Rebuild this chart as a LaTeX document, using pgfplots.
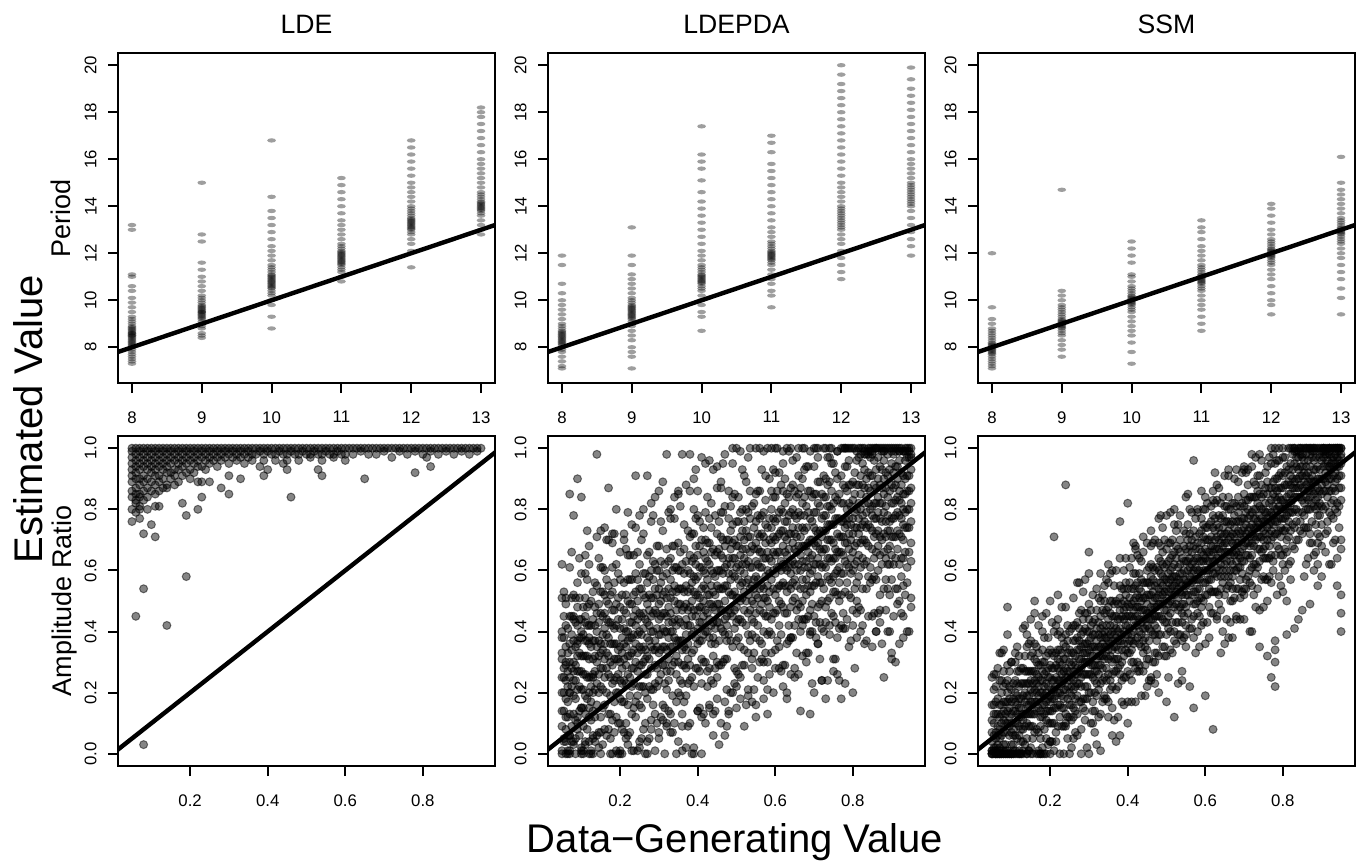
\documentclass[border=0pt]{standalone}
\usepackage{fontspec}
\setmainfont{Liberation Sans}
\usepackage{pgfplots}
\usepackage{pgfplotstable}
\pgfplotsset{compat=1.18}

% ---- top row: period estimates (x = data-generating period) ----
\pgfplotstableread{
x y
8 7.3
8 7.4
8 7.5
8 7.6
8 7.7
8 7.8
8 7.9
8 8.0
8 8.05
8 8.1
8 8.15
8 8.2
8 8.25
8 8.3
8 8.35
8 8.4
8 8.45
8 8.5
8 8.5
8 8.55
8 8.6
8 8.6
8 8.65
8 8.7
8 8.75
8 8.8
8 8.85
8 8.9
8 9.0
8 9.1
8 9.2
8 9.3
8 9.5
8 9.7
8 9.9
8 10.1
8 10.4
8 10.6
8 11.0
8 11.1
8 13.0
8 13.2
9 8.4
9 8.5
9 8.6
9 8.8
9 8.9
9 9.0
9 9.1
9 9.2
9 9.25
9 9.3
9 9.35
9 9.4
9 9.45
9 9.5
9 9.5
9 9.55
9 9.6
9 9.65
9 9.7
9 9.75
9 9.8
9 9.9
9 10.0
9 10.1
9 10.2
9 10.4
9 10.6
9 10.8
9 11.0
9 11.3
9 11.6
9 12.5
9 12.8
9 15.0
10 8.8
10 9.3
10 9.8
10 10.0
10 10.2
10 10.3
10 10.4
10 10.5
10 10.55
10 10.6
10 10.65
10 10.7
10 10.75
10 10.8
10 10.85
10 10.9
10 10.95
10 11.0
10 11.05
10 11.1
10 11.2
10 11.3
10 11.4
10 11.5
10 11.7
10 11.9
10 12.1
10 12.3
10 12.6
10 12.9
10 13.2
10 13.5
10 13.8
10 14.4
10 16.8
11 10.8
11 11.0
11 11.2
11 11.3
11 11.4
11 11.5
11 11.55
11 11.6
11 11.65
11 11.7
11 11.75
11 11.8
11 11.85
11 11.9
11 11.95
11 12.0
11 12.05
11 12.1
11 12.2
11 12.3
11 12.4
11 12.6
11 12.8
11 13.0
11 13.2
11 13.4
11 13.7
11 14.0
11 14.3
11 14.6
11 14.9
11 15.2
12 11.4
12 12.1
12 12.4
12 12.6
12 12.8
12 12.9
12 13.0
12 13.05
12 13.1
12 13.15
12 13.2
12 13.25
12 13.3
12 13.35
12 13.4
12 13.45
12 13.5
12 13.6
12 13.7
12 13.8
12 13.9
12 14.0
12 14.2
12 14.4
12 14.6
12 14.8
12 15.0
12 15.3
12 15.6
12 15.9
12 16.2
12 16.5
12 16.8
13 12.8
13 13.0
13 13.2
13 13.4
13 13.6
13 13.7
13 13.8
13 13.85
13 13.9
13 13.95
13 14.0
13 14.05
13 14.1
13 14.15
13 14.2
13 14.3
13 14.4
13 14.5
13 14.6
13 14.8
13 15.0
13 15.2
13 15.4
13 15.6
13 15.8
13 16.0
13 16.3
13 16.6
13 16.9
13 17.2
13 17.5
13 17.8
13 18.0
13 18.2
}\ldeper

\pgfplotstableread{
x y
8 7.1
8 7.2
8 7.4
8 7.6
8 7.8
8 7.9
8 8.0
8 8.1
8 8.15
8 8.2
8 8.25
8 8.3
8 8.35
8 8.4
8 8.45
8 8.5
8 8.55
8 8.6
8 8.65
8 8.7
8 8.8
8 8.9
8 9.0
8 9.2
8 9.4
8 9.6
8 9.8
8 10.0
8 10.3
8 10.7
8 11.5
8 11.9
9 7.1
9 7.6
9 7.8
9 8.0
9 8.3
9 8.5
9 8.7
9 8.9
9 9.0
9 9.1
9 9.2
9 9.25
9 9.3
9 9.35
9 9.4
9 9.45
9 9.5
9 9.55
9 9.6
9 9.65
9 9.7
9 9.75
9 9.8
9 9.9
9 10.0
9 10.1
9 10.3
9 10.5
9 10.7
9 10.9
9 11.1
9 11.5
9 11.9
9 13.1
10 8.7
10 9.3
10 9.5
10 9.8
10 10.0
10 10.2
10 10.4
10 10.5
10 10.6
10 10.7
10 10.75
10 10.8
10 10.85
10 10.9
10 10.95
10 11.0
10 11.05
10 11.1
10 11.2
10 11.3
10 11.4
10 11.5
10 11.7
10 11.9
10 12.1
10 12.4
10 12.7
10 13.0
10 13.3
10 13.6
10 13.9
10 14.2
10 14.6
10 15.1
10 15.6
10 15.9
10 16.2
10 17.4
11 9.7
11 10.2
11 10.4
11 10.7
11 10.9
11 11.1
11 11.3
11 11.5
11 11.6
11 11.7
11 11.75
11 11.8
11 11.85
11 11.9
11 11.95
11 12.0
11 12.05
11 12.1
11 12.2
11 12.3
11 12.4
11 12.5
11 12.7
11 12.9
11 13.1
11 13.4
11 13.7
11 14.0
11 14.3
11 14.6
11 14.9
11 15.2
11 15.5
11 15.8
11 16.3
11 16.7
11 17.0
12 10.9
12 11.2
12 11.5
12 11.8
12 12.1
12 12.4
12 12.6
12 12.8
12 13.0
12 13.1
12 13.2
12 13.3
12 13.4
12 13.5
12 13.6
12 13.7
12 13.8
12 13.9
12 14.0
12 14.2
12 14.4
12 14.6
12 14.8
12 15.0
12 15.3
12 15.6
12 15.9
12 16.2
12 16.5
12 16.8
12 17.1
12 17.4
12 17.7
12 18.0
12 18.3
12 18.6
12 18.9
12 19.2
12 19.6
12 20.0
13 11.9
13 12.3
13 12.6
13 12.9
13 13.2
13 13.5
13 13.8
13 14.0
13 14.1
13 14.2
13 14.3
13 14.4
13 14.5
13 14.6
13 14.7
13 14.8
13 14.9
13 15.0
13 15.2
13 15.4
13 15.6
13 15.8
13 16.0
13 16.3
13 16.6
13 16.9
13 17.2
13 17.5
13 17.8
13 18.1
13 18.4
13 18.7
13 19.0
13 19.4
13 19.9
}\pdaper

\pgfplotstableread{
x y
8 7.1
8 7.2
8 7.3
8 7.4
8 7.5
8 7.6
8 7.7
8 7.75
8 7.8
8 7.85
8 7.9
8 7.95
8 8.0
8 8.05
8 8.1
8 8.15
8 8.2
8 8.3
8 8.4
8 8.5
8 8.6
8 8.7
8 8.8
8 9.0
8 9.2
8 9.7
8 12.0
9 7.6
9 7.9
9 8.1
9 8.3
9 8.5
9 8.6
9 8.7
9 8.8
9 8.85
9 8.9
9 8.95
9 9.0
9 9.05
9 9.1
9 9.15
9 9.2
9 9.3
9 9.4
9 9.5
9 9.6
9 9.7
9 9.8
9 10.0
9 10.2
9 10.4
9 14.7
10 7.3
10 7.8
10 8.2
10 8.5
10 8.7
10 8.9
10 9.1
10 9.3
10 9.5
10 9.6
10 9.7
10 9.8
10 9.85
10 9.9
10 9.95
10 10.0
10 10.05
10 10.1
10 10.15
10 10.2
10 10.3
10 10.4
10 10.5
10 10.6
10 10.8
10 11.0
10 11.1
10 11.6
10 11.9
10 12.2
10 12.5
11 8.7
11 9.0
11 9.3
11 9.6
11 9.8
11 10.0
11 10.2
11 10.4
11 10.5
11 10.6
11 10.7
11 10.75
11 10.8
11 10.85
11 10.9
11 10.95
11 11.0
11 11.05
11 11.1
11 11.2
11 11.3
11 11.4
11 11.5
11 11.7
11 11.9
11 12.1
11 12.3
11 12.6
11 12.9
11 13.1
11 13.4
12 9.4
12 9.8
12 10.0
12 10.3
12 10.6
12 10.9
12 11.1
12 11.3
12 11.5
12 11.6
12 11.7
12 11.8
12 11.85
12 11.9
12 11.95
12 12.0
12 12.05
12 12.1
12 12.15
12 12.2
12 12.3
12 12.4
12 12.5
12 12.6
12 12.8
12 13.0
12 13.3
12 13.6
12 13.9
12 14.1
13 9.4
13 10.1
13 10.5
13 10.9
13 11.2
13 11.5
13 11.8
13 12.0
13 12.2
13 12.4
13 12.5
13 12.6
13 12.7
13 12.8
13 12.85
13 12.9
13 12.95
13 13.0
13 13.05
13 13.1
13 13.2
13 13.3
13 13.4
13 13.5
13 13.7
13 13.9
13 14.1
13 14.3
13 14.5
13 14.7
13 15.0
13 16.1
}\ssmper

% ---- bottom row: amplitude ratio, both axes in hundredths ----
\pgfplotstableread{
x y
5 100
5 99
5 97
5 95
5 93
5 91
5 89
5 86
5 84
5 80
6 100
6 98
6 96
6 94
6 92
6 90
6 87
6 82
7 100
7 99
7 97
7 95
7 93
7 90
7 88
7 85
7 81
8 100
8 98
8 96
8 94
8 91
8 89
8 86
8 83
9 100
9 99
9 97
9 95
9 93
9 90
9 87
10 100
10 98
10 96
10 94
10 92
10 89
10 86
11 100
11 99
11 97
11 95
11 93
11 91
11 88
11 85
12 100
12 98
12 96
12 94
12 91
12 89
13 100
13 99
13 97
13 95
13 93
13 90
13 87
14 100
14 98
14 96
14 94
14 92
14 88
15 100
15 99
15 97
15 95
15 92
15 90
16 100
16 98
16 96
16 93
16 91
17 100
17 99
17 97
17 95
17 93
17 89
18 100
18 98
18 96
18 94
18 91
19 100
19 99
19 97
19 95
19 92
20 100
20 98
20 96
20 93
20 90
21 100
21 99
21 97
21 95
21 92
22 100
22 98
22 96
22 94
23 100
23 99
23 97
23 94
24 100
24 98
24 96
24 93
25 100
25 99
25 97
25 95
26 100
26 98
26 96
27 100
27 99
27 97
27 94
28 100
28 98
28 96
29 100
29 99
29 97
30 100
30 98
30 95
31 100
31 99
31 97
32 100
32 98
32 96
33 100
33 99
33 97
34 100
34 98
34 95
35 100
35 99
35 97
36 100
36 98
36 96
37 100
37 98
38 100
38 99
39 100
39 98
39 96
40 100
40 99
41 100
41 98
42 100
42 98
42 96
43 100
43 99
44 100
44 98
45 100
45 98
45 96
46 100
46 99
47 100
47 98
48 100
48 98
48 96
49 100
49 99
50 100
50 98
51 100
51 98
51 97
52 100
52 99
53 100
53 98
54 100
54 98
54 96
55 100
55 99
56 100
56 98
57 100
57 98
57 97
58 100
58 99
59 100
59 98
60 100
60 98
60 96
61 100
62 100
62 98
63 100
64 100
64 99
65 100
66 100
66 98
67 100
68 100
68 98
69 100
70 100
70 99
71 100
72 100
72 97
73 100
74 100
74 99
75 100
76 100
76 98
77 100
78 100
78 99
79 100
80 100
80 98
81 100
82 100
82 99
83 100
84 100
84 98
85 100
86 100
86 99
87 100
88 100
88 98
89 100
90 100
90 99
91 100
92 100
92 98
93 100
94 100
94 99
95 100
6 45
8 54
14 42
19 58
8 3
8 72
11 71
10 75
46 84
19 78
23 84
22 80
18 82
30 85
28 87
30 91
33 90
39 91
54 91
65 90
78 92
82 94
81 97
53 93
45 93
44 95
40 93
38 94
25 89
23 89
22 89
5 76
6 79
7 80
7 77
9 80
11 81
12 81
6 83
7 84
9 84
6 85
12 86
14 87
16 88
}\ldeamp

\pgfplotstableread{
x a b c d e f g h i
5 0 1 9 14 20 25 31 38 51
6 0 4 12 18 24 29 35 42 51
7 1 6 13 20 25 30 36 45 61
8 4 3 13 19 24 27 37 44 52
9 8 12 21 27 32 37 42 48 56
10 0 2 15 21 27 32 38 44 59
11 4 13 19 26 32 37 43 51 59
12 4 12 20 25 31 36 42 49 62
13 0 6 14 20 26 31 37 44 53
14 6 16 23 30 35 40 46 55 71
15 7 12 22 28 33 36 46 53 61
16 8 16 25 31 36 41 46 52 60
17 8 13 26 32 38 43 49 55 70
18 11 23 29 36 42 47 53 61 69
19 1 12 20 25 31 36 42 49 62
20 0 10 18 24 30 35 41 48 57
21 7 17 24 31 36 41 47 56 72
22 6 16 26 32 37 40 50 57 65
23 1 13 22 28 33 38 43 49 57
24 12 17 30 36 42 47 53 59 74
25 4 16 22 29 35 40 46 54 62
26 8 22 30 35 41 46 52 59 72
27 0 18 26 32 38 43 49 56 65
28 11 21 28 35 40 45 51 60 76
29 1 13 23 29 34 37 47 54 62
30 7 24 33 39 44 49 54 60 68
31 11 16 29 35 41 46 52 58 73
32 9 21 27 34 40 45 51 59 67
33 13 27 35 40 46 51 57 64 77
34 10 30 38 44 50 55 61 68 77
35 20 30 37 44 49 54 60 69 85
36 1 13 23 29 34 37 47 54 62
37 2 19 28 34 39 44 49 55 63
38 24 29 42 48 54 59 65 71 86
39 22 34 40 47 53 58 64 72 80
40 14 28 36 41 47 52 58 65 78
41 0 23 31 37 43 48 54 61 70
42 30 40 47 54 59 64 70 79 95
43 16 28 38 44 49 52 62 69 77
44 6 23 32 38 43 48 53 59 67
45 25 30 43 49 55 60 66 72 87
46 29 41 47 54 60 65 71 79 87
47 17 31 39 44 50 55 61 68 81
48 13 39 47 53 59 64 70 77 86
49 35 45 52 59 64 69 75 84 100
50 15 27 37 43 48 51 61 68 76
51 18 35 44 50 55 60 65 71 79
52 29 34 47 53 59 64 70 76 91
53 21 33 39 46 52 57 63 71 79
54 17 31 39 44 50 55 61 68 81
55 12 38 46 52 58 63 69 76 85
56 37 47 54 61 66 71 77 86 100
57 18 30 40 46 51 54 64 71 79
58 13 30 39 45 50 55 60 66 74
59 39 44 57 63 69 74 80 86 100
60 34 46 52 59 65 70 76 84 92
61 28 42 50 55 61 66 72 79 92
62 22 48 56 62 68 73 79 86 95
63 36 46 53 60 65 70 76 85 100
64 26 38 48 54 59 62 72 79 87
65 25 42 51 57 62 67 72 78 86
66 44 49 62 68 74 79 85 91 100
67 32 44 50 57 63 68 74 82 90
68 30 44 52 57 63 68 74 81 94
69 13 39 47 53 59 64 70 77 86
70 45 55 62 69 74 79 85 94 100
71 36 48 58 64 69 72 82 89 97
72 24 41 50 56 61 66 71 77 85
73 43 48 61 67 73 78 84 90 100
74 39 51 57 64 70 75 81 89 97
75 31 45 53 58 64 69 75 82 95
76 26 52 60 66 72 77 83 90 99
77 42 52 59 66 71 76 82 91 100
78 41 53 63 69 74 77 87 94 100
79 35 52 61 67 72 77 82 88 96
80 42 47 60 66 72 77 83 89 100
81 38 50 56 63 69 74 80 88 96
82 47 61 69 74 80 85 91 98 100
83 36 62 70 76 82 87 93 99 100
84 58 68 75 82 87 92 98 99 100
85 45 57 67 73 78 81 91 98 100
86 40 57 66 72 77 82 87 93 100
87 47 52 65 71 77 82 88 94 100
88 54 66 72 79 85 90 96 99 100
89 40 54 62 67 73 78 84 91 100
90 31 57 65 71 77 82 88 95 100
91 54 64 71 78 83 88 94 99 100
92 50 62 72 78 83 86 96 100 99
93 38 55 64 70 75 80 85 91 99
94 56 61 74 80 86 91 97 99 100
95 51 63 69 76 82 87 93 97 100
5.5 5 4 14 20 25 28 38 45 53
6.5 0 1 6 12 17 22 27 33 41
7.5 4 9 22 28 34 39 45 51 66
8.5 0 5 11 18 24 29 35 43 51
9.5 6 14 22 27 33 38 44 51 64
10.5 0 1 9 15 21 26 32 39 48
11.5 8 18 25 32 37 42 48 57 73
12.5 0 1 11 17 22 25 35 42 50
13.5 4 12 21 27 32 37 42 48 56
14.5 2 7 20 26 32 37 43 49 64
15.5 3 15 21 28 34 39 45 53 61
16.5 6 20 28 33 39 44 50 57 70
17.5 0 5 13 19 25 30 36 43 52
18.5 7 17 24 31 36 41 47 56 72
19.5 0 10 20 26 31 34 44 51 59
20.5 0 8 17 23 28 33 38 44 52
21.5 5 10 23 29 35 40 46 52 67
22.5 7 19 25 32 38 43 49 57 65
23.5 1 15 23 28 34 39 45 52 65
24.5 1 19 27 33 39 44 50 57 66
25.5 5 15 22 29 34 39 45 54 70
26.5 0 10 20 26 31 34 44 51 59
27.5 5 22 31 37 42 47 52 58 66
28.5 16 21 34 40 46 51 57 63 78
29.5 10 22 28 35 41 46 52 60 68
30.5 12 26 34 39 45 50 56 63 76
31.5 0 15 23 29 35 40 46 53 62
32.5 14 24 31 38 43 48 54 63 79
33.5 7 19 29 35 40 43 53 60 68
34.5 0 17 26 32 37 42 47 53 61
35.5 19 24 37 43 49 54 60 66 81
36.5 17 29 35 42 48 53 59 67 75
37.5 9 23 31 36 42 47 53 60 73
38.5 0 25 33 39 45 50 56 63 72
39.5 28 38 45 52 57 62 68 77 93
40.5 15 27 37 43 48 51 61 68 76
41.5 13 30 39 45 50 55 60 66 74
42.5 22 27 40 46 52 57 63 69 84
43.5 24 36 42 49 55 60 66 74 82
44.5 14 28 36 41 47 52 58 65 78
45.5 3 29 37 43 49 54 60 67 76
46.5 30 40 47 54 59 64 70 79 95
47.5 9 21 31 37 42 45 55 62 70
48.5 20 37 46 52 57 62 67 73 81
49.5 23 28 41 47 53 58 64 70 85
50.5 26 38 44 51 57 62 68 76 84
51.5 29 43 51 56 62 67 73 80 93
52.5 16 42 50 56 62 67 73 80 89
53.5 37 47 54 61 66 71 77 86 100
54.5 21 33 43 49 54 57 67 74 82
55.5 25 42 51 57 62 67 72 78 86
56.5 31 36 49 55 61 66 72 78 93
57.5 33 45 51 58 64 69 75 83 91
58.5 26 40 48 53 59 64 70 77 90
59.5 20 46 54 60 66 71 77 84 93
60.5 37 47 54 61 66 71 77 86 100
61.5 27 39 49 55 60 63 73 80 88
62.5 29 46 55 61 66 71 76 82 90
63.5 37 42 55 61 67 72 78 84 99
64.5 38 50 56 63 69 74 80 88 96
65.5 33 47 55 60 66 71 77 84 97
66.5 14 40 48 54 60 65 71 78 87
67.5 44 54 61 68 73 78 84 93 100
68.5 33 45 55 61 66 69 79 86 94
69.5 23 40 49 55 60 65 70 76 84
70.5 38 43 56 62 68 73 79 85 100
71.5 31 43 49 56 62 67 73 81 89
72.5 40 54 62 67 73 78 84 91 100
73.5 24 50 58 64 70 75 81 88 97
74.5 46 56 63 70 75 80 86 95 100
75.5 31 43 53 59 64 67 77 84 92
76.5 24 41 50 56 61 66 71 77 85
77.5 41 46 59 65 71 76 82 88 100
78.5 44 56 62 69 75 80 86 94 100
79.5 37 51 59 64 70 75 81 88 100
80.5 28 54 62 68 74 79 85 92 100
81.5 48 58 65 72 77 82 88 97 100
82.5 42 54 64 70 75 78 88 95 100
83.5 37 54 63 69 74 79 84 90 98
84.5 56 61 74 80 86 91 97 99 100
85.5 46 58 64 71 77 82 88 96 100
86.5 46 60 68 73 79 84 90 97 100
87.5 36 62 70 76 82 87 93 99 100
88.5 47 57 64 71 76 81 87 92 100
89.5 40 52 62 68 73 76 86 93 100
90.5 45 62 71 77 82 87 92 98 100
91.5 49 54 67 73 79 84 90 94 100
92.5 46 58 64 71 77 82 88 92 100
93.5 52 66 74 79 85 90 96 99 100
94.5 40 66 74 80 86 91 97 99 100
}\pdaamp

\pgfplotstableread{
x y
14 98
9 90
7 85
10 84
8 78
17 87
24 91
27 91
32 98
36 98
38 98
44 93
47 98
41 97
43 96
30 86
29 84
35 86
33 80
26 80
22 79
19 80
12 68
11 65
5 62
6 49
15 73
16 74
21 70
25 78
20 66
18 72
23 75
28 82
31 89
34 84
37 88
39 90
40 86
45 94
46 89
49 95
51 99
53 97
55 100
57 99
50 100
58 100
60 100
62 99
64 100
67 100
69 99
71 100
74 100
76 99
78 100
79 100
81 99
83 98
85 99
86 100
88 99
89 98
90 99
92 99
93 99
95 98
70 20
80 20
88 25
90 33
91 30
63 20
63 18
55 16
52 9
47 6
46 10
39 2
39 0
44 13
48 14
57 24
60 28
65 28
66 26
72 24
73 18
75 27
77 18
78 23
85 35
86 40
93 45
95 48
84 45
82 40
68 33
62 29
58 21
53 19
50 22
42 10
41 12
30 5
28 8
32 10
35 4
36 9
25 2
22 3
94 40
92 36
87 43
81 46
76 38
74 42
71 36
69 40
67 42
64 38
61 35
59 33
56 30
54 28
51 25
49 20
45 18
43 15
40 14
38 10
33 7
27 4
20 1
18 0
15 0
12 0
10 1
7 0
5 33
5 40
6 8
6 30
7 6
7 20
8 30
8 45
9 10
9 36
10 15
10 40
11 3
11 45
12 15
12 38
13 5
13 25
}\pdaampx

\pgfplotstableread{
x a b c d e f g h i
5 0 0 0 1 1 4 7 11 16
6 0 1 0 2 5 7 13 17 22
7 0 0 0 2 5 8 12 16 24
8 1 0 3 7 11 14 17 22 27
9 0 1 10 14 17 20 24 29 39
10 0 0 3 7 10 13 17 21 30
11 0 1 6 10 14 17 20 24 30
12 0 0 6 9 12 15 18 22 27
13 1 0 4 8 11 13 19 23 28
14 0 5 10 13 16 19 23 27 35
15 0 9 13 17 21 24 27 32 37
16 7 13 17 21 24 27 31 36 46
17 1 7 15 19 22 25 29 33 42
18 0 12 16 20 24 27 30 34 40
19 0 5 11 14 17 20 23 27 32
20 0 4 10 14 17 19 25 29 34
21 1 10 15 18 21 24 28 32 40
22 9 16 20 24 28 31 34 39 44
23 9 15 19 23 26 29 33 38 48
24 10 13 21 25 28 31 35 39 48
25 0 12 16 20 24 27 30 34 40
26 5 15 21 24 27 30 33 37 42
27 6 13 19 23 26 28 34 38 43
28 8 17 22 25 28 31 35 39 47
29 11 18 22 26 30 33 36 41 46
30 20 26 30 34 37 40 44 49 59
31 14 17 25 29 32 35 39 43 52
32 3 19 23 27 31 34 37 41 47
33 13 23 29 32 35 38 41 45 50
34 18 25 31 35 38 40 46 50 55
35 17 26 31 34 37 40 44 48 56
36 15 22 26 30 34 37 40 45 50
37 21 27 31 35 38 41 45 50 60
38 26 29 37 41 44 47 51 55 64
39 16 32 36 40 44 47 50 54 60
40 17 27 33 36 39 42 45 49 54
41 17 24 30 34 37 39 45 49 54
42 28 37 42 45 48 51 55 59 67
43 29 36 40 44 48 51 54 59 64
44 27 33 37 41 44 47 51 56 66
45 31 34 42 46 49 52 56 60 69
46 24 40 44 48 52 55 58 62 68
47 23 33 39 42 45 48 51 55 60
48 32 39 45 49 52 54 60 64 69
49 35 44 49 52 55 58 62 66 74
50 32 39 43 47 51 54 57 62 67
51 40 46 50 54 57 60 64 69 79
52 37 40 48 52 55 58 62 66 75
53 23 39 43 47 51 54 57 61 67
54 27 37 43 46 49 52 55 59 64
55 35 42 48 52 55 57 63 67 72
56 41 50 55 58 61 64 68 72 80
57 38 45 49 53 57 60 63 68 73
58 40 46 50 54 57 60 64 69 79
59 48 51 59 63 66 69 73 77 86
60 36 52 56 60 64 67 70 74 80
61 38 48 54 57 60 63 66 70 75
62 46 53 59 63 66 68 74 78 83
63 44 53 58 61 64 67 71 75 83
64 47 54 58 62 66 69 72 77 82
65 52 58 62 66 69 72 76 81 91
66 55 58 66 70 73 76 80 84 93
67 38 54 58 62 66 69 72 76 82
68 44 54 60 63 66 69 72 76 81
69 44 51 57 61 64 66 72 76 81
70 54 63 68 71 74 77 81 85 93
71 58 65 69 73 77 80 83 88 93
72 55 61 65 69 72 75 79 84 94
73 59 62 70 74 77 80 84 88 97
74 47 63 67 71 75 78 81 85 91
75 48 58 64 67 70 73 76 80 85
76 57 64 70 74 77 79 85 89 94
77 56 65 70 73 76 79 83 87 95
78 65 72 76 80 84 87 90 95 100
79 67 73 77 81 84 87 91 96 100
80 62 65 73 77 80 83 87 91 100
81 50 66 70 74 78 81 84 88 94
82 63 73 79 82 85 88 91 95 100
83 67 74 80 84 87 89 95 99 100
84 70 79 84 87 90 93 97 99 100
85 72 79 83 87 91 94 97 98 100
86 74 80 84 88 91 94 98 100 100
87 69 72 80 84 87 90 94 98 100
88 65 81 85 89 93 96 99 100 100
89 62 72 78 81 84 87 90 94 100
90 68 75 81 85 88 90 96 99 100
91 72 81 86 89 92 95 99 100 98
92 79 86 90 94 98 100 100 100 99
93 77 83 87 91 94 97 100 96 100
94 79 82 90 94 97 100 100 99 100
95 67 83 87 91 95 98 100 97 100
5.5 1 0 2 6 10 13 16 21 26
6.5 0 1 0 3 6 9 13 18 28
7.5 0 0 6 10 13 16 20 24 33
8.5 0 1 0 3 7 10 13 17 23
9.5 0 0 6 9 12 15 18 22 27
10.5 1 0 0 3 6 8 14 18 23
11.5 0 5 10 13 16 19 23 27 35
12.5 0 0 4 8 12 15 18 23 28
13.5 3 9 13 17 20 23 27 32 42
14.5 1 1 9 13 16 19 23 27 36
15.5 0 5 9 13 17 20 23 27 33
16.5 0 8 14 17 20 23 26 30 35
17.5 0 0 5 9 12 14 20 24 29
18.5 0 8 13 16 19 22 26 30 38
19.5 3 10 14 18 22 25 28 33 38
20.5 4 10 14 18 21 24 28 33 43
21.5 4 7 15 19 22 25 29 33 42
22.5 0 12 16 20 24 27 30 34 40
23.5 0 9 15 18 21 24 27 31 36
24.5 5 12 18 22 25 27 33 37 42
25.5 2 11 16 19 22 25 29 33 41
26.5 7 14 18 22 26 29 32 37 42
27.5 17 23 27 31 34 37 41 46 56
28.5 15 18 26 30 33 36 40 44 53
29.5 2 18 22 26 30 33 36 40 46
30.5 10 20 26 29 32 35 38 42 47
31.5 7 14 20 24 27 29 35 39 44
32.5 12 21 26 29 32 35 39 43 51
33.5 17 24 28 32 36 39 42 47 52
34.5 18 24 28 32 35 38 42 47 57
35.5 21 24 32 36 39 42 46 50 59
36.5 11 27 31 35 39 42 45 49 55
37.5 12 22 28 31 34 37 40 44 49
38.5 17 24 30 34 37 39 45 49 54
39.5 25 34 39 42 45 48 52 56 64
40.5 26 33 37 41 45 48 51 56 61
41.5 30 36 40 44 47 50 54 59 69
42.5 27 30 38 42 45 48 52 56 65
43.5 19 35 39 43 47 50 53 57 63
44.5 19 29 35 38 41 44 47 51 56
45.5 24 31 37 41 44 46 52 56 61
46.5 30 39 44 47 50 53 57 61 69
47.5 26 33 37 41 45 48 51 56 61
48.5 39 45 49 53 56 59 63 68 78
49.5 32 35 43 47 50 53 57 61 70
50.5 25 41 45 49 53 56 59 63 69
51.5 33 43 49 52 55 58 61 65 70
52.5 36 43 49 53 56 58 64 68 73
53.5 39 48 53 56 59 62 66 70 78
54.5 38 45 49 53 57 60 63 68 73
55.5 46 52 56 60 63 66 70 75 85
56.5 41 44 52 56 59 62 66 70 79
57.5 33 49 53 57 61 64 67 71 77
58.5 35 45 51 54 57 60 63 67 72
59.5 43 50 56 60 63 65 71 75 80
60.5 43 52 57 60 63 66 70 74 82
61.5 46 53 57 61 65 68 71 76 81
62.5 53 59 63 67 70 73 77 82 92
63.5 49 52 60 64 67 70 74 78 87
64.5 40 56 60 64 68 71 74 78 84
65.5 44 54 60 63 66 69 72 76 81
66.5 43 50 56 60 63 65 71 75 80
67.5 51 60 65 68 71 74 78 82 90
68.5 54 61 65 69 73 76 79 84 89
69.5 53 59 63 67 70 73 77 82 92
70.5 54 57 65 69 72 75 79 83 92
71.5 40 56 60 64 68 71 74 78 84
72.5 52 62 68 71 74 77 80 84 89
73.5 54 61 67 71 74 76 82 86 91
74.5 57 66 71 74 77 80 84 88 96
75.5 57 64 68 72 76 79 82 87 92
76.5 58 64 68 72 75 78 82 87 97
77.5 60 63 71 75 78 81 85 89 98
78.5 52 68 72 76 80 83 86 90 96
79.5 55 65 71 74 77 80 83 87 92
80.5 60 67 73 77 80 82 88 92 97
81.5 62 71 76 79 82 85 89 93 100
82.5 68 75 79 83 87 90 93 98 100
83.5 70 76 80 84 87 90 94 99 97
84.5 73 76 84 88 91 94 98 100 100
85.5 58 74 78 82 86 89 92 96 100
86.5 64 74 80 83 86 89 92 96 100
87.5 69 76 82 86 89 91 97 100 99
88.5 66 75 80 83 86 89 93 97 100
89.5 71 78 82 86 90 93 97 98 100
90.5 80 86 90 94 97 100 100 99 100
91.5 73 76 84 88 91 94 98 96 100
92.5 62 78 82 86 90 93 97 95 100
93.5 70 80 86 89 92 95 98 100 100
94.5 74 81 87 91 94 96 100 100 99
}\ssmamp

\pgfplotstableread{
x y
24 88
57 96
40 82
21 71
9 48
72 98
38 76
42 68
35 62
30 66
33 59
27 56
22 52
20 50
18 45
13 41
14 39
11 33
10 30
8 34
7 33
16 50
15 44
44 71
48 77
52 80
46 73
55 84
50 78
60 84
63 88
68 93
74 98
83 100
87 100
5 25
6 26
12 32
19 46
26 51
29 57
32 54
36 60
41 64
47 70
53 75
58 80
62 86
66 91
70 94
77 100
80 97
95 40
95 46
95 52
94 55
93 69
95 70
92 62
90 58
89 55
88 60
87 49
85 47
84 44
83 41
81 39
80 53
79 58
78 22
77 25
78 30
78 34
78 37
76 32
74 35
72 40
70 44
68 45
66 38
65 36
64 33
62 8
60 19
57 15
56 22
54 24
52 12
50 17
48 20
46 25
45 22
42 17
38 6
37 4
36 6
33 1
30 0
28 0
31 10
26 12
35 12
40 10
94 64
91 66
89 69
86 62
82 57
76 50
73 48
70 52
67 50
63 45
59 42
55 39
51 34
47 30
43 27
39 25
34 19
29 14
24 9
20 4
17 0
14 0
10 0
9 0
8 0
6 0
7 1
12 1
15 2
18 2
}\ssmampx

\pgfplotsset{
  panel/.style={
    scale only axis, width=188.5pt, height=165pt,
    axis line style={line width=1pt},
    tick style={black, line width=1pt},
    major tick length=5pt, tick align=outside, tick pos=left,
    tick label style={font=\fontsize{8.4}{10}\selectfont},
    xticklabel style={anchor=north, inner sep=0pt},
    yticklabel style={rotate=90, anchor=south, inner sep=0pt},
    xticklabel shift=9pt, yticklabel shift=5.5pt,
    /pgf/number format/assume math mode=true,
  },
  perpanel/.style={panel, xmin=7.8, xmax=13.2, ymin=6.48, ymax=20.52,
    xtick={8,...,13}, ytick={8,10,...,20}},
  amppanel/.style={panel, xmin=1.4, xmax=98.6, ymin=-4, ymax=104,
    xtick={20,40,60,80}, xticklabels={0.2,0.4,0.6,0.8},
    ytick={0,20,...,100}, yticklabels={0.0,0.2,0.4,0.6,0.8,1.0}},
  permark/.style={only marks, mark=*, mark size=1.1pt,
    mark options={xscale=2, draw opacity=0, fill=black, fill opacity=0.38}},
  ampmark/.style={only marks, mark=*, mark size=2pt,
    mark options={fill=black, fill opacity=0.48, draw=black, draw opacity=0.5, line width=0.5pt}},
  idline/.style={black, line width=2.2pt},
}

\begin{document}
\begin{tikzpicture}
\path[use as bounding box] (0,0) rectangle (681.5pt,431.5pt);

% top row
\begin{axis}[perpanel, at={(59pt,240pt)}, anchor=south west]
\addplot[permark] table {\ldeper};
\addplot[idline] coordinates {(7,7) (14,14)};
\end{axis}
\begin{axis}[perpanel, at={(274pt,240pt)}, anchor=south west]
\addplot[permark] table {\pdaper};
\addplot[idline] coordinates {(7,7) (14,14)};
\end{axis}
\begin{axis}[perpanel, at={(489pt,240pt)}, anchor=south west]
\addplot[permark] table {\ssmper};
\addplot[idline] coordinates {(7,7) (14,14)};
\end{axis}

% bottom row
\begin{axis}[amppanel, at={(59pt,48.5pt)}, anchor=south west]
\addplot[ampmark] table {\ldeamp};
\addplot[idline] coordinates {(0,0) (100,100)};
\end{axis}
\begin{axis}[amppanel, at={(274pt,48.5pt)}, anchor=south west]
\pgfplotsinvokeforeach{1,...,9}{\addplot[ampmark] table[x index=0, y index=#1] {\pdaamp};}
\addplot[ampmark] table {\pdaampx};
\addplot[idline] coordinates {(0,0) (100,100)};
\end{axis}
\begin{axis}[amppanel, at={(489pt,48.5pt)}, anchor=south west]
\pgfplotsinvokeforeach{1,...,9}{\addplot[ampmark] table[x index=0, y index=#1] {\ssmamp};}
\addplot[ampmark] table {\ssmampx};
\addplot[idline] coordinates {(0,0) (100,100)};
\end{axis}

% titles and labels
\node[font=\fontsize{13.3}{16}\selectfont, anchor=base] at (153.25pt,414.5pt) {LDE};
\node[font=\fontsize{13.3}{16}\selectfont, anchor=base] at (368.25pt,414.5pt) {LDEPDA};
\node[font=\fontsize{13.3}{16}\selectfont, anchor=base] at (583.25pt,414.5pt) {SSM};
\node[font=\fontsize{13.5}{16}\selectfont, rotate=90, anchor=base] at (35pt,322.5pt) {Period};
\node[font=\fontsize{13.5}{16}\selectfont, rotate=90, anchor=base] at (35.5pt,131pt) {Amplitude Ratio};
\node[font=\fontsize{20}{24}\selectfont, rotate=90, anchor=base] at (21pt,222pt) {Estimated Value};
\node[font=\fontsize{20}{24}\selectfont, anchor=base] at (367.5pt,5.5pt) {Data−Generating Value};
\end{tikzpicture}
\end{document}
